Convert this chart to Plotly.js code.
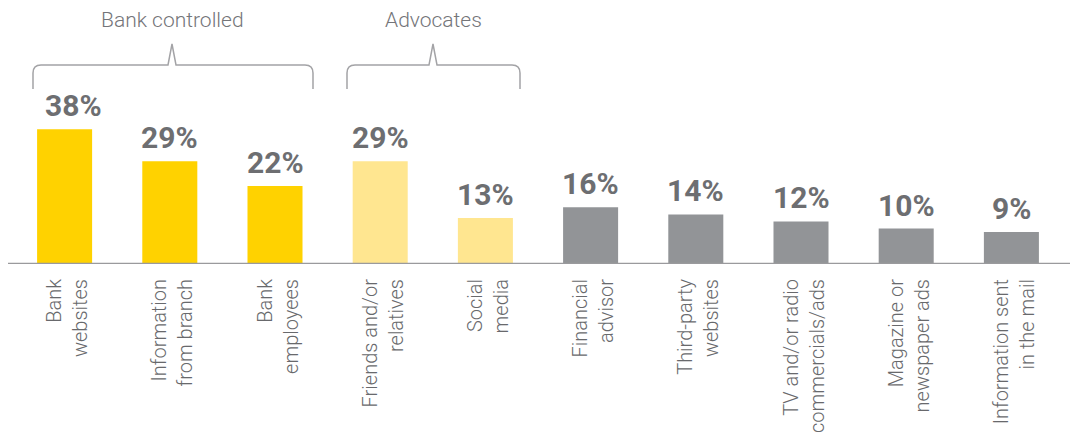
<!DOCTYPE html>
<html>
<head>
<meta charset="utf-8">
<script src="https://cdn.plot.ly/plotly-3.0.1.min.js"></script>
<style>
  html, body { margin: 0; padding: 0; background: #ffffff; }
  #chart { width: 1070px; height: 439px; }
</style>
</head>
<body>
<div id="chart"></div>
<script>
// ---- data ----
const categories = [
  "Bank<br>websites",
  "Information<br>from branch",
  "Bank<br>employees",
  "Friends and/or<br>relatives",
  "Social<br>media",
  "Financial<br>advisor",
  "Third-party<br>websites",
  "TV and/or radio<br>commercials/ads",
  "Magazine or<br>newspaper ads",
  "Information sent<br>in the mail"
];
const values = [38, 29, 22, 29, 13, 16, 14, 12, 10, 9];
const groups = ["bank", "bank", "bank", "advocate", "advocate", "other", "other", "other", "other", "other"];
const groupTitles = ["Bank controlled", "Advocates"];

// ---- styling ----
const groupColors = { bank: "#FFD200", advocate: "#FFE690", other: "#929497" };
const W = 1070, H = 439;
const M = { l: 12, r: 6, t: 124, b: 175 };
const plotW = W - M.l - M.r, plotH = H - M.t - M.b;

function px2paperX(px) { return (px - M.l) / plotW; }
function px2paperY(py) { return (H - M.b - py) / plotH; }

function bracketPath(x0, x1, xm, yTop, yBar, yBottom, r) {
  const pts = [
    ["M", x0, yBottom], ["L", x0, yBar + r], ["Q", x0, yBar, x0 + r, yBar],
    ["L", xm - 4, yBar], ["L", xm, yTop], ["L", xm + 4, yBar],
    ["L", x1 - r, yBar], ["Q", x1, yBar, x1, yBar + r], ["L", x1, yBottom]
  ];
  return pts.map(p => {
    let s = p[0];
    for (let i = 1; i < p.length; i += 2) {
      s += " " + px2paperX(p[i]).toFixed(5) + "," + px2paperY(p[i + 1]).toFixed(5);
    }
    return s;
  }).join(" ");
}

const trace = {
  type: "bar",
  x: categories,
  y: values,
  width: 0.523,
  marker: { color: groups.map(g => groupColors[g]) },
  hoverinfo: "none"
};

const annotations = values.map((v, i) => ({
  x: categories[i], y: v, xref: "x", yref: "y",
  text: v + "%",
  showarrow: false,
  yanchor: "bottom",
  yshift: 4,
  xshift: i === 0 ? 9 : 0,
  font: { family: "Roboto, Arial, sans-serif", size: 30, color: "#6d6e71", weight: 700 }
}));

const brackets = [
  { x0: 33, x1: 313, xm: 172, title: groupTitles[0] },
  { x0: 347, x1: 520, xm: 433, title: groupTitles[1] }
];
brackets.forEach(b => {
  annotations.push({
    x: px2paperX(b.xm), y: px2paperY(20), xref: "paper", yref: "paper",
    text: b.title, showarrow: false, xanchor: "center", yanchor: "middle",
    font: { family: "Roboto, Arial, sans-serif", size: 21, color: "#747579", weight: 300 }
  });
});

const shapes = brackets.map(b => ({
  type: "path", xref: "paper", yref: "paper",
  path: bracketPath(b.x0, b.x1, b.xm, 44, 65, 89, 8),
  line: { color: "#a3a3a6", width: 1.5 }
}));
shapes.push({
  type: "line", xref: "paper", yref: "y",
  x0: px2paperX(8), x1: px2paperX(1070), y0: 0, y1: 0,
  line: { color: "#9a9a9d", width: 2.5 }
});

const layout = {
  width: W, height: H,
  margin: M,
  paper_bgcolor: "#ffffff",
  plot_bgcolor: "#ffffff",
  showlegend: false,
  bargap: 0.477,
  xaxis: {
    type: "category",
    tickangle: -90,
    ticks: "",
    ticklabelstandoff: 10,
    ticklabelshift: 3,
    showline: false,
    showgrid: false,
    zeroline: false,
    tickfont: { family: "Roboto, Arial, sans-serif", size: 20, color: "#68696c", weight: 300 },
    fixedrange: true
  },
  yaxis: {
    range: [0, 39.5],
    visible: false,
    showgrid: false,
    zeroline: false,
    fixedrange: true
  },
  annotations: annotations,
  shapes: shapes
};

Plotly.newPlot("chart", [trace], layout, { displayModeBar: false, staticPlot: true });
</script>
</body>
</html>
